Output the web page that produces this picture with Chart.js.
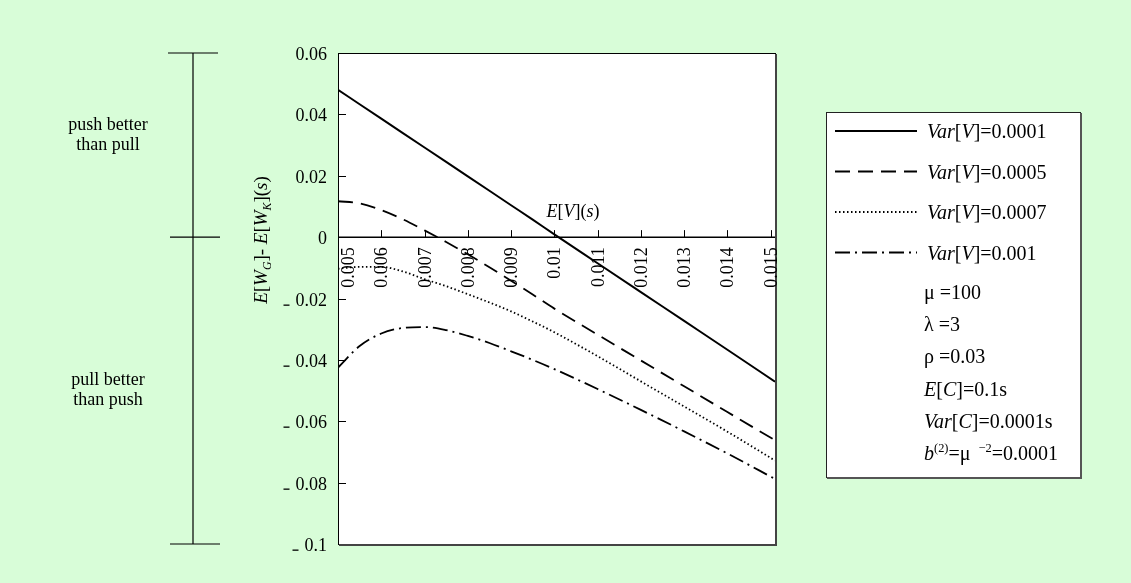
<!DOCTYPE html>
<html>
<head>
<meta charset="utf-8">
<script src="https://cdn.jsdelivr.net/npm/chart.js@4.4.0/dist/chart.umd.min.js"></script>
<style>
  html, body { margin: 0; padding: 0; background: #d8fdd8; }
  .chart-wrap { width: 1131px; height: 583px; }
</style>
</head>
<body>
<div class="chart-wrap"><canvas id="myChart"></canvas></div>
<script>
// E[V](s) sample points
const xPoints = [0.005, 0.0055, 0.006, 0.0065, 0.007, 0.0075, 0.008, 0.0085, 0.009, 0.0095, 0.010, 0.011, 0.012, 0.013, 0.014, 0.0151];
// E[WG] - E[WK](s) for each Var[V]
const varV0001 = [0.048, 0.0433, 0.0386, 0.0339, 0.0292, 0.0245, 0.0198, 0.0151, 0.0104, 0.0057, 0.0009, -0.0085, -0.0179, -0.0273, -0.0367, -0.0471];
const varV0005 = [0.0117, 0.0110, 0.0088, 0.0058, 0.0022, -0.0016, -0.0056, -0.0098, -0.0142, -0.0187, -0.0233, -0.0318, -0.0402, -0.0486, -0.0570, -0.0662];
const varV0007 = [-0.0103, -0.0097, -0.0097, -0.0112, -0.0137, -0.0160, -0.0186, -0.0213, -0.0242, -0.0275, -0.0310, -0.0388, -0.0470, -0.0552, -0.0634, -0.0728];
const varV001 = [-0.0425, -0.0355, -0.0314, -0.0296, -0.0293, -0.0303, -0.0322, -0.0345, -0.0372, -0.0400, -0.0430, -0.0495, -0.0563, -0.0633, -0.0705, -0.0788];

const seriesValues = ['0.0001', '0.0005', '0.0007', '0.001'];
const xTickValues = [0.005, 0.006, 0.007, 0.008, 0.009, 0.010, 0.011, 0.012, 0.013, 0.014, 0.015];
const xTickLabels = ['0.005', '0.006', '0.007', '0.008', '0.009', '0.01', '0.011', '0.012', '0.013', '0.014', '0.015'];
const yTickValues = [0.06, 0.04, 0.02, 0, -0.02, -0.04, -0.06, -0.08, -0.1];
const yTickLabels = ['0.06', '0.04', '0.02', '0', '0.02', '0.04', '0.06', '0.08', '0.1'];

const FONT = '"Liberation Serif", "Times New Roman", serif';
const FS = 18;   // axis text
const LFS = 20;  // legend text

const toPoints = (ys) => xPoints.map((x, i) => ({ x: x, y: ys[i] }));

// mixed italic / sub / sup text
function drawRich(ctx, parts, x, y, size, align) {
  const segs = parts.map(([t, s]) => {
    const small = s.includes('sub') || s.includes('sup');
    const f = (s.startsWith('i') ? 'italic ' : '') + (small ? size * 0.62 : size) + 'px ' + FONT;
    ctx.font = f;
    return { t, s, f, w: ctx.measureText(t).width };
  });
  const total = segs.reduce((a, b) => a + b.w, 0);
  let cx = align === 'center' ? x - total / 2 : align === 'right' ? x - total : x;
  ctx.textAlign = 'left';
  segs.forEach(sg => {
    ctx.font = sg.f;
    let dy = 0;
    if (sg.s.includes('sub')) dy = size * 0.22;
    if (sg.s.includes('sup')) dy = -size * 0.38;
    ctx.fillText(sg.t, cx, y + dy);
    cx += sg.w;
  });
}

const V = (val) => [['Var', 'i'], ['[', ''], ['V', 'i'], [']=' + val, '']];
const paramRows = [
  [['\u03bc =100', '']],
  [['\u03bb =3', '']],
  [['\u03c1 =0.03', '']],
  [['E', 'i'], ['[', ''], ['C', 'i'], [']=0.1s', '']],
  [['Var', 'i'], ['[', ''], ['C', 'i'], [']=0.0001s', '']],
  [['b', 'i'], ['(2)', 'sup'], ['=\u03bc ', ''], [' \u22122', 'sup'], ['=0.0001', '']]
];
const dashStyles = [[], [15, 8], [1.5, 2.5], [15, 5, 2, 5]];

const decor = {
  id: 'decor',
  beforeDraw(chart) {
    const { ctx, chartArea: a } = chart;
    ctx.save();
    ctx.fillStyle = '#d8fdd8';
    ctx.fillRect(0, 0, chart.width, chart.height);
    ctx.fillStyle = '#ffffff';
    ctx.fillRect(a.left, a.top, a.right - a.left, a.bottom - a.top);
    ctx.restore();
  },
  afterDraw(chart) {
    const { ctx, chartArea: a } = chart;
    const xs = chart.scales.x, ys = chart.scales.y;
    const zeroY = ys.getPixelForValue(0);
    ctx.save();
    ctx.fillStyle = '#000';
    ctx.strokeStyle = '#000';

    // frame
    ctx.lineWidth = 1;
    ctx.strokeRect(a.left + 0.5, a.top + 0.5, a.right - a.left, a.bottom - a.top);
    ctx.fillStyle = '#444';
    ctx.fillRect(a.right, a.top + 1, 2, a.bottom - a.top + 1);
    ctx.fillRect(a.left + 1, a.bottom, a.right - a.left + 1, 2);
    ctx.fillStyle = '#000';

    // x axis at y = 0
    ctx.lineWidth = 1.5;
    ctx.beginPath();
    ctx.moveTo(a.left, zeroY);
    ctx.lineTo(a.right, zeroY);
    ctx.stroke();
    ctx.lineWidth = 1;
    xTickValues.forEach((v, i) => {
      const px = Math.round(xs.getPixelForValue(v)) + 0.5;
      if (i > 0) {
        ctx.beginPath();
        ctx.moveTo(px, zeroY);
        ctx.lineTo(px, zeroY - 7);
        ctx.stroke();
      }
      ctx.save();
      ctx.translate(Math.max(px, a.left + 10), zeroY + 10);
      ctx.rotate(-Math.PI / 2);
      ctx.font = FS + 'px ' + FONT;
      ctx.textAlign = 'right';
      ctx.textBaseline = 'middle';
      ctx.fillText(xTickLabels[i], 0, 1);
      ctx.restore();
    });

    // y ticks and labels
    ctx.textBaseline = 'alphabetic';
    yTickValues.forEach((v, i) => {
      const py = Math.round(ys.getPixelForValue(v)) + 0.5;
      if (v !== 0 && i > 0 && i < yTickValues.length - 1) {
        ctx.beginPath();
        ctx.moveTo(a.left, py);
        ctx.lineTo(a.left + 8, py);
        ctx.stroke();
      }
      ctx.font = FS + 'px ' + FONT;
      ctx.textAlign = 'right';
      const base = py + 6;
      ctx.fillText(yTickLabels[i], a.left - 11, base);
      if (v < 0) {
        const w = ctx.measureText(yTickLabels[i]).width;
        ctx.fillRect(a.left - 11 - w - 12, base - 1, 6, 1.3);
      }
    });

    // axis titles
    drawRich(ctx, [['E', 'i'], ['[', ''], ['V', 'i'], [']', ''], ['(', ''], ['s', 'i'], [')', '']], 573, 217, FS, 'center');
    ctx.save();
    ctx.translate(267, 240);
    ctx.rotate(-Math.PI / 2);
    drawRich(ctx, [['E', 'i'], ['[', ''], ['W', 'i'], ['G', 'isub'], [']- ', ''], ['E', 'i'], ['[', ''], ['W', 'i'], ['K', 'isub'], ['](', ''], ['s', 'i'], [')', '']], 0, 0, 19, 'center');
    ctx.restore();

    // left bracket: push / pull regions
    const yTop = ys.getPixelForValue(0.06), yBot = ys.getPixelForValue(-0.1);
    ctx.lineWidth = 1.2;
    ctx.beginPath();
    ctx.moveTo(193, yTop); ctx.lineTo(193, yBot);
    ctx.moveTo(168, yTop); ctx.lineTo(218, yTop);
    ctx.moveTo(170, zeroY); ctx.lineTo(220, zeroY);
    ctx.moveTo(170, yBot); ctx.lineTo(220, yBot);
    ctx.stroke();
    ctx.font = FS + 'px ' + FONT;
    ctx.textAlign = 'center';
    ctx.fillText('push better', 108, 130);
    ctx.fillText('than pull', 108, 150);
    ctx.fillText('pull better', 108, 385);
    ctx.fillText('than push', 108, 405);

    // legend box
    const lx = 826, ly = 112, lw = 254, lh = 365;
    ctx.fillStyle = '#fff';
    ctx.fillRect(lx, ly, lw, lh);
    ctx.strokeStyle = '#222';
    ctx.lineWidth = 1;
    ctx.strokeRect(lx + 0.5, ly + 0.5, lw, lh);
    ctx.fillStyle = '#555';
    ctx.fillRect(lx + lw, ly + 1, 2, lh + 1);
    ctx.fillRect(lx + 1, ly + lh, lw + 1, 2);
    ctx.fillStyle = '#000';
    ctx.strokeStyle = '#000';
    seriesValues.forEach((val, i) => {
      const ry = 131 + i * 40.5;
      ctx.save();
      ctx.lineWidth = i === 0 ? 2 : 1.8;
      ctx.setLineDash(dashStyles[i]);
      ctx.beginPath();
      ctx.moveTo(835, ry);
      ctx.lineTo(917, ry);
      ctx.stroke();
      ctx.restore();
      drawRich(ctx, V(val), 927, ry + 7, LFS, 'left');
    });
    paramRows.forEach((row, i) => {
      drawRich(ctx, row, 924, 299 + i * 32.2, LFS, 'left');
    });
    ctx.restore();
  }
};

const ctx = document.getElementById('myChart');
const allSeries = [varV0001, varV0005, varV0007, varV001];

new Chart(ctx, {
  type: 'line',
  data: {
    datasets: allSeries.map((ys, i) => ({
      label: 'Var[V]=' + seriesValues[i],
      data: toPoints(ys),
      borderColor: '#000',
      borderWidth: i === 0 ? 2 : 1.8,
      borderDash: dashStyles[i],
      pointRadius: 0,
      fill: false,
      cubicInterpolationMode: 'monotone'
    }))
  },
  options: {
    responsive: true,
    maintainAspectRatio: false,
    animation: false,
    layout: { padding: { left: 338, top: 53, right: 356, bottom: 39 } },
    scales: {
      x: { type: 'linear', min: 0.005, max: 0.0151, display: false },
      y: { type: 'linear', min: -0.1, max: 0.06, display: false }
    },
    plugins: { legend: { display: false }, tooltip: { enabled: false } }
  },
  plugins: [decor]
});
</script>
</body>
</html>
